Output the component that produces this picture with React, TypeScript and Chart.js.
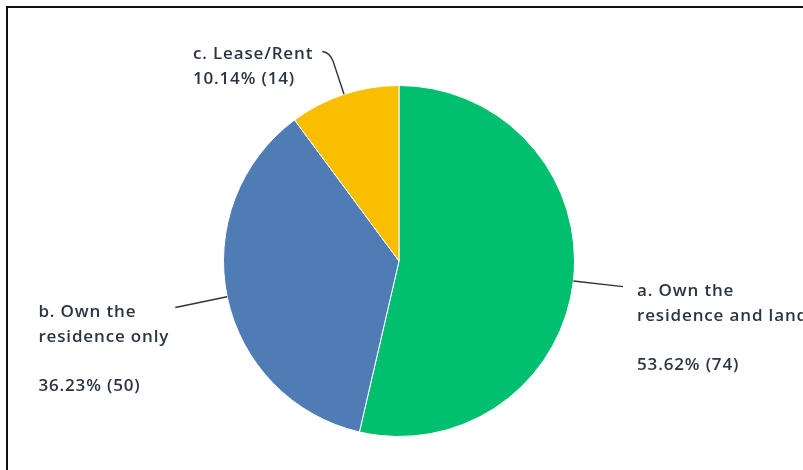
import React, { useEffect, useRef } from "react";
import { Chart, registerables } from "chart.js";

Chart.register(...registerables);

const categories = ["a. Own the residence and land", "b. Own the residence only", "c. Lease/Rent"];
const labelLines = [["a. Own the", "residence and land", ""], ["b. Own the", "residence only", ""], ["c. Lease/Rent"]];
const counts = [74, 50, 14];
const percents = [53.62, 36.23, 10.14];
const colors = ["#00bf6f", "#507cb6", "#f9be00"];

const FONT = '600 17px "Open Sans", sans-serif';
const TEXT_COLOR = "#2a3542";
const LINE_H = 24.5;

type LabelCfg = { len: number; side: "left" | "right"; gap: number; dy: number; bend?: number; bendLen?: number };
const labelCfg: LabelCfg[] = [
  { len: 50, side: "right", gap: 14, dy: 5 },
  { len: 53, side: "left", gap: 6, dy: 5 },
  { len: 34, side: "left", gap: 9, dy: 3, bend: 8, bendLen: 44 },
];

const labelPlugin = {
  id: "outerLabels",
  afterDraw(chart: any) {
    const ctx = chart.ctx as CanvasRenderingContext2D;
    const meta = chart.getDatasetMeta(0);
    ctx.save();
    ctx.font = FONT;
    (ctx as any).letterSpacing = "0.85px";
    ctx.textBaseline = "middle";
    meta.data.forEach((arc: any, i: number) => {
      const { x, y, startAngle, endAngle, outerRadius } = arc.getProps(
        ["x", "y", "startAngle", "endAngle", "outerRadius"],
        true
      );
      const mid = (startAngle + endAngle) / 2;
      const c = Math.cos(mid);
      const s = Math.sin(mid);
      const cfg = labelCfg[i];
      const p0x = x + c * outerRadius;
      const p0y = y + s * outerRadius;
      const p1x = x + c * (outerRadius + cfg.len);
      const p1y = y + s * (outerRadius + cfg.len);
      let ex = p1x;
      let ey = p1y;
      ctx.strokeStyle = "#333";
      ctx.lineWidth = 1.4;
      ctx.beginPath();
      ctx.moveTo(p0x, p0y);
      ctx.lineTo(p1x, p1y);
      if (cfg.bend !== undefined && cfg.bendLen !== undefined) {
        const cx = x + c * (outerRadius + cfg.bendLen);
        const cy = y + s * (outerRadius + cfg.bendLen);
        ex = cx - cfg.bend;
        ey = cy - 1;
        ctx.quadraticCurveTo(cx, cy, ex, ey);
      }
      ctx.stroke();

      const lines = [...labelLines[i], `${percents[i].toFixed(2)}% (${counts[i]})`];
      const maxW = Math.max(...lines.map((l) => ctx.measureText(l).width));
      const left = cfg.side === "right" ? ex + cfg.gap : ex - cfg.gap - maxW;
      ctx.fillStyle = TEXT_COLOR;
      ctx.textAlign = "left";
      lines.forEach((l, k) => {
        if (l) ctx.fillText(l, left, ey + cfg.dy + k * LINE_H);
      });
    });
    ctx.restore();
  },
};

export default function App() {
  const ref = useRef<HTMLCanvasElement>(null);
  useEffect(() => {
    if (!ref.current) return;
    const chart = new Chart(ref.current, {
      type: "pie",
      data: {
        labels: categories,
        datasets: [
          {
            data: counts,
            backgroundColor: colors,
            borderColor: "#ffffff",
            borderWidth: 1,
          },
        ],
      },
      options: {
        responsive: false,
        animation: false,
        layout: { padding: { top: 85, bottom: 33, left: 0, right: 5 } },
        plugins: {
          legend: { display: false },
          tooltip: { enabled: false },
        },
      },
      plugins: [labelPlugin],
    });
    return () => chart.destroy();
  }, []);
  return (
    <div style={{ position: "fixed", left: 0, top: 0, width: 803, height: 470, background: "#fff", overflow: "hidden" }}>
      <canvas ref={ref} width={803} height={470} style={{ position: "absolute", left: 0, top: 0 }} />
      <div
        style={{
          position: "absolute",
          left: 6,
          top: 6,
          width: 820,
          height: 500,
          borderLeft: "2px solid #111",
          borderTop: "2px solid #111",
          pointerEvents: "none",
        }}
      />
    </div>
  );
}
